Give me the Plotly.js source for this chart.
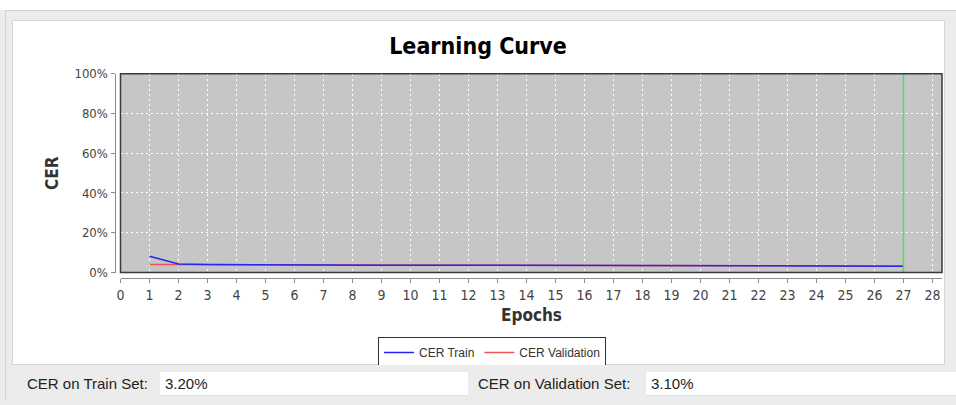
<!DOCTYPE html>
<html>
<head>
<meta charset="utf-8">
<script src="https://cdn.plot.ly/plotly-3.0.1.min.js"></script>
<style>
  html, body { margin: 0; padding: 0; width: 956px; height: 405px; overflow: hidden; background: #ececec; }
  .abs { position: absolute; }
  #topstrip { left: 0; top: 0; width: 956px; height: 10px; background: #ffffff; }
  #outerline { left: 5px; top: 10px; width: 951px; height: 1px; background: #d2d2d2; }
  #leftline { left: 5px; top: 10px; width: 1px; height: 390px; background: #d2d2d2; }
  #panel { left: 12px; top: 20px; width: 933px; height: 345px; background: #ffffff; border: 1px solid #d6d6d6; box-sizing: border-box; }
  #chart { left: 0; top: 0; width: 956px; height: 405px; z-index: 2; }
  #bottom { left: 6px; top: 365px; width: 950px; height: 40px; background: #ececec; z-index: 3; font-family: "Liberation Sans", Arimo, sans-serif; font-size: 15px; color: #222; }
  .lbl { position: absolute; top: 10px; white-space: nowrap; }
  .field { position: absolute; top: 7px; height: 24px; background: #ffffff; border-bottom: 1px solid #e2e2e2; box-sizing: border-box; padding-left: 5px; line-height: 24px; }
</style>
</head>
<body>
<div id="topstrip" class="abs"></div>
<div id="outerline" class="abs"></div>
<div id="leftline" class="abs"></div>
<div id="panel" class="abs"></div>
<div id="chart" class="abs"></div>
<div id="bottom" class="abs">
  <span class="lbl" style="left:21px;">CER on Train Set:</span>
  <div class="field" style="left:154px; width:308px;" id="trainField"></div>
  <span class="lbl" style="left:472px;">CER on Validation Set:</span>
  <div class="field" style="left:640px; width:310px;" id="valField"></div>
</div>
<script>
// ---- data ----
const epochs = [1,2,3,4,5,6,7,8,9,10,11,12,13,14,15,16,17,18,19,20,21,22,23,24,25,26,27];
const cerTrain = [8.2,4.3,4.0,3.9,3.85,3.8,3.75,3.72,3.7,3.68,3.65,3.62,3.6,3.58,3.55,3.52,3.5,3.48,3.45,3.42,3.4,3.38,3.35,3.32,3.3,3.25,3.2];
const cerValidation = [4.0,3.95,3.9,3.85,3.8,3.75,3.72,3.7,3.68,3.65,3.62,3.6,3.57,3.55,3.52,3.5,3.47,3.45,3.42,3.4,3.37,3.35,3.3,3.27,3.22,3.17,3.1];
const bestEpoch = 27;
const xTicks = [0,1,2,3,4,5,6,7,8,9,10,11,12,13,14,15,16,17,18,19,20,21,22,23,24,25,26,27,28];
const yTicks = [0,20,40,60,80,100];
const trainSetCER = "3.20%";
const validationSetCER = "3.10%";

document.getElementById('trainField').textContent = trainSetCER;
document.getElementById('valField').textContent = validationSetCER;

const W = 956, H = 405;
const px = v => v / W;
const py = v => 1 - v / H;

const fam = "DejaVu Sans Condensed, Liberation Sans Narrow, sans-serif";
const tickFont = { family: fam, size: 14, color: "#444" };

const traces = [
  { x: epochs, y: cerValidation, type: 'scatter', mode: 'lines', name: 'CER Validation',
    line: { color: '#f25353', width: 1.5 }, legendrank: 2 },
  { x: epochs, y: cerTrain, type: 'scatter', mode: 'lines', name: 'CER Train',
    line: { color: '#2626f2', width: 1.5 }, legendrank: 1 }
];

const layout = {
  width: W, height: H,
  margin: { l: 0, r: 0, t: 0, b: 0 },
  paper_bgcolor: 'rgba(0,0,0,0)',
  plot_bgcolor: '#c6c6c6',
  showlegend: true,
  title: { text: 'Learning Curve', x: 0.5, xanchor: 'center', y: py(46), yanchor: 'middle',
    font: { family: fam, size: 23, color: '#000', weight: 'bold' } },
  xaxis: {
    domain: [px(120.5), px(942)],
    range: [0, 28.33],
    anchor: 'free', position: py(278),
    tickvals: xTicks, ticktext: xTicks.map(String),
    showline: true, linecolor: '#8c8c8c', linewidth: 1,
    ticks: 'outside', ticklen: 4, tickcolor: '#8c8c8c',
    showgrid: true, gridcolor: '#ffffff', griddash: '2px,3px', gridwidth: 1,
    zeroline: false, tickfont: tickFont, automargin: false
  },
  yaxis: {
    domain: [py(272.5), py(73.7)],
    range: [0, 100],
    anchor: 'free', position: px(114.5),
    tickvals: yTicks, ticktext: yTicks.map(v => v + '%'),
    showline: true, linecolor: '#8c8c8c', linewidth: 1,
    ticks: 'outside', ticklen: 4, tickcolor: '#8c8c8c',
    showgrid: true, gridcolor: '#ffffff', griddash: '2px,3px', gridwidth: 1,
    zeroline: false, tickfont: { family: fam, size: 13, color: '#444' }, automargin: false
  },
  legend: {
    orientation: 'h', x: px(378), y: py(337), xanchor: 'left', yanchor: 'top',
    bgcolor: '#ffffff', bordercolor: '#333333', borderwidth: 1,
    font: { family: "Liberation Sans, Arimo, sans-serif", size: 12, color: '#333' },
    traceorder: 'normal', itemwidth: 30
  },
  shapes: [
    { type: 'line', xref: 'x', yref: 'y domain', x0: bestEpoch, x1: bestEpoch, y0: 0, y1: 1,
      line: { color: '#4fe04f', width: 1.5 } },
    { type: 'rect', xref: 'x domain', yref: 'y domain', x0: 0, x1: 1, y0: 0, y1: 1,
      line: { color: '#3a3a3a', width: 1.5 } }
  ],
  annotations: [
    { text: 'CER', textangle: -90, xref: 'paper', yref: 'paper', x: px(52), y: py(173),
      xanchor: 'center', yanchor: 'middle', showarrow: false,
      font: { family: fam, size: 17, color: '#333', weight: 'bold' } },
    { text: 'Epochs', xref: 'paper', yref: 'paper', x: px(531), y: py(315),
      xanchor: 'center', yanchor: 'middle', showarrow: false,
      font: { family: fam, size: 17, color: '#333', weight: 'bold' } }
  ]
};

Plotly.newPlot('chart', traces, layout, { displayModeBar: false, staticPlot: true });
</script>
</body>
</html>
